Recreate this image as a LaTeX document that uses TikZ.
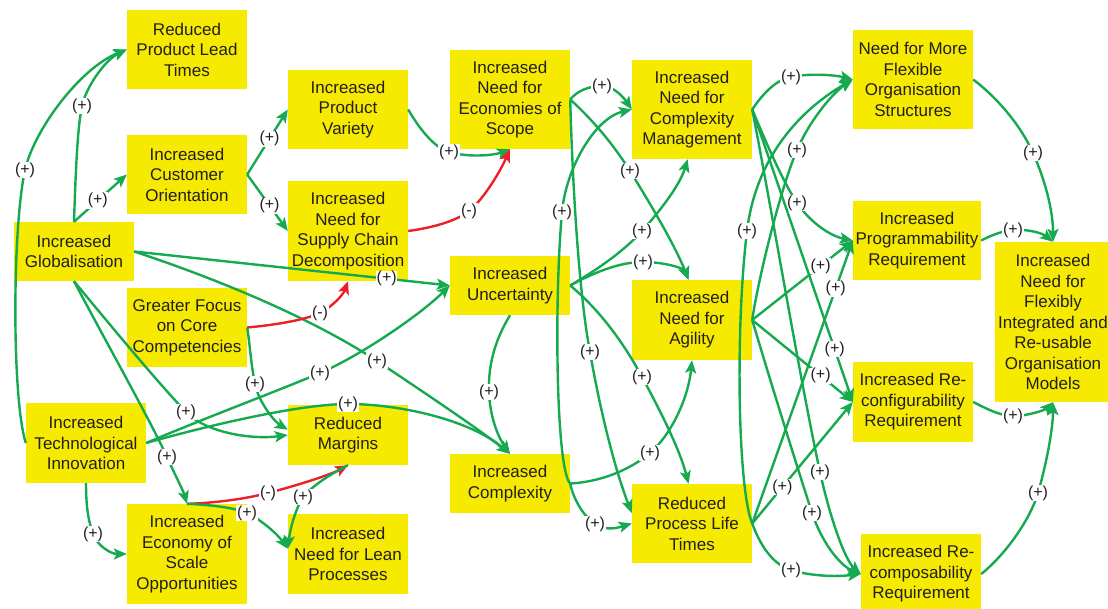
\documentclass[tikz,border=0pt]{standalone}
\usepackage{fontspec}
\setmainfont{Liberation Sans}
\usetikzlibrary{arrows.meta}
\definecolor{boxyellow}{RGB}{245,234,0}
\definecolor{linkgreen}{RGB}{22,170,80}
\definecolor{linkred}{RGB}{236,32,39}
\definecolor{inkgray}{RGB}{35,31,32}
\tikzset{
  factor/.style={rectangle, fill=boxyellow, text=inkgray, align=center,
    inner sep=0pt, minimum width=120pt, font=\fontsize{17}{20.5}\selectfont},
  link/.style={draw=linkgreen, line width=2.4pt,
    -{Stealth[length=13pt,width=11pt,inset=3pt]}},
  neglink/.style={link, draw=linkred},
  sign/.style={fill=white, text=inkgray, inner sep=0.6pt,
    font=\fontsize{16}{17}\selectfont},
}
\begin{document}
\begin{tikzpicture}[x=1pt,y=-1pt,line join=round]
\useasboundingbox (0,0) rectangle (1108,609);

% ---- factors ----
\node[factor, minimum height=79pt]  (rplt)   at (187,49.5)  {Reduced\\Product Lead\\Times};
\node[factor, minimum height=79pt]  (co)     at (187,174.5) {Increased\\Customer\\Orientation};
\node[factor, minimum height=59pt]  (glob)   at (74,251.5)  {Increased\\Globalisation};
\node[factor, minimum height=79pt]  (core)   at (187,327.5) {Greater Focus\\on Core\\Competencies};
\node[factor, minimum height=80pt]  (tech)   at (86,443)    {Increased\\Technological\\Innovation};
\node[factor, minimum height=100pt] (eos)    at (187,554)   {Increased\\Economy of\\Scale\\Opportunities};
\node[factor, minimum height=79pt]  (pv)     at (348,109.5) {Increased\\Product\\Variety};
\node[factor, minimum height=100pt] (scd)    at (348,231)   {Increased\\Need for\\Supply Chain\\Decomposition};
\node[factor, minimum height=60pt]  (rm)     at (348,435)   {Reduced\\Margins};
\node[factor, minimum height=80pt]  (lean)   at (348,554)   {Increased\\Need for Lean\\Processes};
\node[factor, minimum height=99pt]  (scope)  at (510,99.5)  {Increased\\Need for\\Economies of\\Scope};
\node[factor, minimum height=59pt]  (unc)    at (510,285.5) {Increased\\Uncertainty};
\node[factor, minimum height=59pt]  (cplx)   at (510,483.5) {Increased\\Complexity};
\node[factor, minimum height=99pt]  (cmgmt)  at (692,109.5) {Increased\\Need for\\Complexity\\Management};
\node[factor, minimum height=80pt]  (agil)   at (692,320)   {Increased\\Need for\\Agility};
\node[factor, minimum height=79pt]  (plt)    at (692,523.5) {Reduced\\Process Life\\Times};
\node[factor, minimum height=99pt]  (fos)    at (913,79.5)  {Need for More\\Flexible\\Organisation\\Structures};
\node[factor, minimum height=79pt, minimum width=128pt] (prog) at (917,240.5) {Increased\\Programmability\\Requirement};
\node[factor, minimum height=80pt]  (reconf) at (913,402)   {Increased Re-\\configurability\\Requirement};
\node[factor, minimum height=80pt]  (recomp) at (921,574)   {Increased Re-\\composability\\Requirement};
\node[factor, minimum height=160pt, minimum width=116pt] (fir) at (1053,322)
  {Increased\\Need for\\Flexibly\\Integrated and\\Re-usable\\Organisation\\Models};

% ---- drivers on the left ----
\draw[link] (glob.north) .. controls (76,160) and (78,125) .. (82,106) node[sign]{(+)}
  .. controls (86,87) and (105,60) .. (rplt.west);
\draw[link] (tech.west) .. controls (12,400) and (12,230) .. (25,170) node[sign]{(+)}
  .. controls (34,130) and (80,68) .. (rplt.west);
\draw[link] (glob.north) -- node[sign, pos=0.45]{(+)} (co.west);
\draw[link] (co.east) -- node[sign, pos=0.55]{(+)} (pv.west);
\draw[link] (co.east) -- node[sign, pos=0.55]{(+)} (scd.west);
\draw[link] (pv.east) .. controls (420,130) and (435,148) .. (449,152) node[sign]{(+)}
  .. controls (470,158) and (495,155) .. (scope.south);
\draw[neglink] (scd.east) .. controls (430,228) and (455,222) .. (469,211) node[sign]{(-)}
  .. controls (483,200) and (500,172) .. (scope.south);
\draw[link] (glob.east) -- node[sign, pos=0.8]{(+)} (unc.west);
\draw[link] (glob.east) .. controls (250,290) and (330,330) .. (377,361) node[sign]{(+)}
  .. controls (422,391) and (480,430) .. (cplx.north);
\draw[neglink] (core.east) .. controls (275,325) and (305,320) .. (320,313) node[sign]{(-)}
  .. controls (333,306) and (343,295) .. (scd.south);
\draw[link] (core.east) .. controls (250,345) and (251,365) .. (255,384) node[sign]{(+)}
  .. controls (259,403) and (275,422) .. (rm.175);
\draw[link] (glob.south) .. controls (110,325) and (160,385) .. (186,412) node[sign]{(+)}
  .. controls (205,432) and (250,440) .. (rm.west);
\draw[link] (glob.south) .. controls (105,340) and (150,420) .. (167,457) node[sign]{(+)}
  .. controls (175,475) and (183,490) .. (eos.north);
\draw[link] (tech.east) .. controls (200,420) and (280,390) .. (320,373) node[sign]{(+)}
  .. controls (360,356) and (420,315) .. (unc.west);
\draw[link] (tech.east) .. controls (210,425) and (300,404) .. (348,404) node[sign]{(+)}
  .. controls (400,404) and (470,420) .. (cplx.north);
\draw[link] (tech.south) .. controls (86,505) and (88,520) .. (93,534) node[sign]{(+)}
  .. controls (97,545) and (110,554) .. (eos.west);
\draw[neglink] (eos.north) .. controls (215,503) and (245,499) .. (268,493) node[sign]{(-)}
  .. controls (295,486) and (330,475) .. (rm.south);
\draw[link] (eos.north) .. controls (210,505) and (232,507) .. (247,513) node[sign]{(+)}
  .. controls (262,520) and (278,535) .. (lean.175);
\draw[link] (rm.south) .. controls (335,472) and (315,483) .. (303,497) node[sign]{(+)}
  .. controls (295,510) and (290,530) .. (lean.175);

% ---- middle columns ----
\draw[link] (scope.east) .. controls (578,90) and (590,86) .. (602,86) node[sign]{(+)}
  .. controls (614,86) and (624,98) .. (cmgmt.west);
\draw[link] (scope.east) .. controls (595,122) and (615,147) .. (630,171) node[sign]{(+)}
  .. controls (648,200) and (675,245) .. (agil.95);
\draw[link] (scope.east) .. controls (573,200) and (580,300) .. (590,352) node[sign]{(+)}
  .. controls (600,410) and (615,470) .. (plt.170);
\draw[link] (cplx.east) .. controls (556,470) and (554,300) .. (562,212) node[sign]{(+)}
  .. controls (566,168) and (595,118) .. (cmgmt.west);
\draw[link] (cplx.east) .. controls (600,482) and (630,470) .. (650,453) node[sign]{(+)}
  .. controls (670,436) and (688,400) .. (agil.south);
\draw[link] (cplx.east) .. controls (573,498) and (583,516) .. (595,524) node[sign]{(+)}
  .. controls (607,532) and (620,527) .. (plt.west);
\draw[link] (unc.east) .. controls (600,268) and (625,250) .. (642,231) node[sign]{(+)}
  .. controls (660,211) and (680,185) .. (cmgmt.265);
\draw[link] (unc.east) .. controls (595,272) and (620,262) .. (643,262) node[sign]{(+)}
  .. controls (664,262) and (684,268) .. (agil.95);
\draw[link] (unc.east) .. controls (600,310) and (625,345) .. (642,377) node[sign]{(+)}
  .. controls (660,410) and (680,450) .. (plt.95);
\draw[link] (unc.south) .. controls (495,340) and (488,365) .. (489,392) node[sign]{(+)}
  .. controls (490,420) and (500,440) .. (cplx.north);

% ---- towards the requirements ----
\draw[link] (cmgmt.east) .. controls (762,95) and (775,80) .. (791,77) node[sign]{(+)}
  .. controls (810,73) and (835,75) .. (fos.west);
\draw[link] (agil.east) .. controls (758,280) and (780,190) .. (797,150) node[sign]{(+)}
  .. controls (808,124) and (830,95) .. (fos.west);
\draw[link] (plt.east) .. controls (738,490) and (735,330) .. (747,231) node[sign]{(+)}
  .. controls (756,157) and (800,110) .. (fos.west);
\draw[link] (cmgmt.east) .. controls (765,140) and (782,180) .. (797,203) node[sign]{(+)}
  .. controls (810,222) and (830,236) .. (prog.west);
\draw[link] (agil.east) -- node[sign, pos=0.68]{(+)} (prog.west);
\draw[link] (plt.east) -- node[sign, pos=0.83]{(+)} (prog.west);
\draw[link] (cmgmt.east) -- node[sign, pos=0.82]{(+)} (reconf.west);
\draw[link] (agil.east) -- node[sign, pos=0.68]{(+)} (reconf.west);
\draw[link] (plt.east) -- node[sign, pos=0.3]{(+)} (reconf.west);
\draw[link] (cmgmt.east) .. controls (770,200) and (800,380) .. (820,472) node[sign]{(+)}
  .. controls (830,518) and (845,560) .. (recomp.west);
\draw[link] (agil.east) .. controls (770,380) and (795,460) .. (812,513) node[sign]{(+)}
  .. controls (824,548) and (843,567) .. (recomp.west);
\draw[link] (plt.east) .. controls (762,550) and (775,565) .. (791,570) node[sign]{(+)}
  .. controls (810,576) and (835,577) .. (recomp.west);

% ---- into the integrated models ----
\draw[link] (fos.east) .. controls (1000,100) and (1022,128) .. (1033,153) node[sign]{(+)}
  .. controls (1045,180) and (1053,210) .. (fir.north);
\draw[link] (prog.east) .. controls (992,235) and (1002,231) .. (1013,230) node[sign]{(+)}
  .. controls (1028,229) and (1042,233) .. (fir.north);
\draw[link] (reconf.east) .. controls (985,408) and (1000,416) .. (1013,416) node[sign]{(+)}
  .. controls (1028,416) and (1045,410) .. (fir.south);
\draw[link] (recomp.east) .. controls (1005,555) and (1030,520) .. (1038,493) node[sign]{(+)}
  .. controls (1046,465) and (1053,430) .. (fir.south);
\end{tikzpicture}
\end{document}
